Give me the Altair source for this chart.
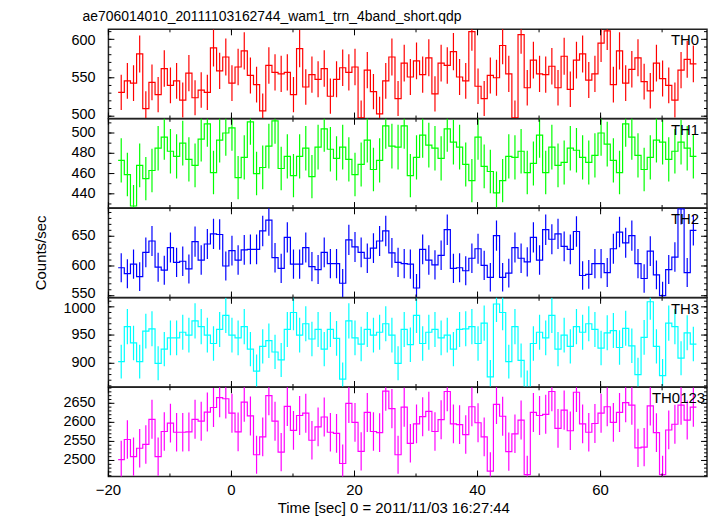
import altair as alt
import pandas as pd
import numpy as np

TITLE = "ae706014010_20111103162744_wam1_trn_4band_short.qdp"
X_TITLE = "Time [sec] 0 = 2011/11/03 16:27:44"
Y_TITLE = "Counts/sec"

FIRST_BIN_CENTER = -17.92
BIN_WIDTH = 1.0

TH0 = [531, 546, 543, 581, 510, 544, 528, 562, 540, 546,
       521, 556, 524, 534, 531, 589, 559, 577, 543, 564,
       585, 553, 541, 507, 566, 557, 555, 557, 528, 588,
       538, 554, 548, 562, 526, 548, 563, 557, 564, 498,
       560, 532, 503, 546, 577, 523, 569, 551, 572, 554,
       576, 529, 569, 566, 584, 551, 546, 610, 539, 523,
       553, 550, 592, 555, 498, 606, 537, 573, 555, 554,
       565, 537, 578, 535, 573, 581, 547, 555, 595, 611,
       541, 585, 543, 561, 576, 545, 533, 569, 549, 540,
       521, 560, 574, 568]

TH1 = [473, 459, 428, 468, 455, 463, 485, 496, 482, 477,
       490, 474, 468, 494, 509, 461, 493, 500, 505, 456,
       476, 511, 460, 466, 487, 512, 465, 477, 458, 477,
       485, 457, 486, 504, 484, 475, 486, 474, 459, 469,
       493, 464, 473, 507, 487, 486, 507, 458, 476, 498,
       488, 485, 475, 504, 491, 486, 469, 453, 496, 467,
       462, 441, 453, 477, 476, 482, 461, 470, 498, 461,
       486, 468, 471, 485, 483, 476, 471, 478, 500, 489,
       473, 461, 509, 496, 478, 464, 476, 493, 491, 474,
       482, 491, 485, 477]

TH2 = [597, 587, 603, 582, 623, 642, 598, 593, 631, 606,
       608, 595, 641, 610, 637, 654, 653, 600, 626, 610,
       627, 628, 628, 659, 677, 614, 596, 648, 603, 603,
       631, 599, 594, 623, 604, 604, 571, 644, 632, 623,
       613, 630, 642, 659, 622, 606, 604, 603, 563, 628,
       610, 602, 618, 661, 596, 597, 592, 613, 629, 601,
       581, 651, 581, 588, 631, 613, 607, 648, 610, 661,
       645, 654, 633, 628, 658, 584, 586, 604, 604, 589,
       629, 657, 639, 651, 604, 579, 625, 585, 550, 594,
       615, 696, 589, 660]

TH3 = [903, 965, 936, 903, 957, 961, 900, 925, 945, 945,
       955, 950, 975, 965, 950, 935, 960, 985, 950, 945,
       965, 925, 886, 930, 940, 920, 906, 960, 990, 950,
       970, 943, 960, 925, 960, 944, 872, 975, 945, 934,
       960, 950, 955, 970, 950, 900, 960, 933, 985, 935,
       955, 960, 945, 950, 925, 960, 961, 965, 935, 971,
       876, 1005, 990, 903, 965, 905, 858, 935, 955, 945,
       985, 925, 950, 930, 965, 955, 970, 960, 927, 954,
       958, 928, 962, 931, 880, 946, 1009, 930, 878, 971,
       965, 909, 954, 934]

TH0123 = [2502, 2555, 2510, 2532, 2542, 2608, 2510, 2576, 2598, 2574,
          2574, 2575, 2608, 2603, 2627, 2639, 2665, 2662, 2624, 2575,
          2653, 2617, 2515, 2562, 2670, 2603, 2522, 2642, 2579, 2618,
          2624, 2553, 2588, 2614, 2574, 2571, 2492, 2650, 2600, 2524,
          2626, 2576, 2573, 2682, 2636, 2515, 2640, 2545, 2596, 2615,
          2629, 2576, 2607, 2681, 2596, 2594, 2568, 2641, 2599, 2562,
          2472, 2647, 2616, 2523, 2570, 2606, 2463, 2626, 2618, 2621,
          2681, 2584, 2632, 2578, 2679, 2596, 2574, 2597, 2624, 2641,
          2600, 2626, 2652, 2645, 2533, 2535, 2643, 2573, 2463, 2580,
          2595, 2645, 2606, 2640]

PANEL_NAMES = ["TH0", "TH1", "TH2", "TH3", "TH0123"]
PANEL_DATA = [TH0, TH1, TH2, TH3, TH0123]
COLORS = ["#ff0000", "#00ff00", "#0000ff", "#00ffff", "#ff00ff"]
Y_DOMAINS = [(497, 613), (426, 514), (547, 697), (858, 1016), (2458, 2692)]
Y_LABELS = [[500, 550, 600], [440, 460, 480, 500], [550, 600, 650],
            [900, 950, 1000], [2500, 2550, 2600, 2650]]
Y_MAJOR_STEP = [50, 20, 50, 50, 50]
Y_MINOR_STEP = [10, 10, 10, 10, 10]
X_DOMAIN = (-20, 77.3)
X_LABELS = [-20, 0, 20, 40, 60]
X_MAJOR_STEP = 20
X_MINOR_STEP = 10

W = 602
H = 89.7
FONT = "Liberation Sans"
MAJ = 6
MIN = 3
LABEL_RIGHT = [W - 8, W - 8, W - 8, W - 8, W - 2]
EDGE_GAP_PX = 7.5   # keep y labels this far inside their own panel


def tick_values(lo, hi, step):
    start = np.ceil(lo / step) * step
    v = np.arange(start, hi + 1e-9, step)
    return pd.DataFrame({"v": v})


def fmt(v):
    return ("\u2212" + str(-v)) if v < 0 else str(v)


def text_layer(df, **kw):
    return alt.Chart(df).mark_text(color="black", font=FONT, **kw)


def label_positions(vals, lo, hi):
    # nudge labels that sit right on a panel edge a hair inwards
    per_px = (hi - lo) / H
    out = []
    for v in vals:
        p = v
        if (v - lo) / per_px < 3:
            p = lo + 3.8 * per_px
        if (hi - v) / per_px < 11:
            p = hi - 11.5 * per_px
        out.append(p)
    return out


def panel(i):
    vals = np.array(PANEL_DATA[i], dtype=float)
    n = len(vals)
    t = FIRST_BIN_CENTER + BIN_WIDTH * np.arange(n)
    err = np.sqrt(vals)
    bins = pd.DataFrame({"t": t, "rate": vals, "lo": vals - err, "hi": vals + err})
    edges = pd.DataFrame({"edge": np.append(t - BIN_WIDTH / 2, t[-1] + BIN_WIDTH / 2),
                          "rate": np.append(vals, vals[-1])})
    c = COLORS[i]
    xs = alt.Scale(domain=list(X_DOMAIN), nice=False, zero=False)
    ys = alt.Scale(domain=list(Y_DOMAINS[i]), nice=False, zero=False)
    bottom = (i == len(PANEL_NAMES) - 1)

    step = alt.Chart(edges).mark_line(interpolate="step-after", color=c,
                                      strokeWidth=1.2, clip=True).encode(
        x=alt.X("edge:Q", scale=xs, axis=None),
        y=alt.Y("rate:Q", scale=ys, axis=None))
    errs = alt.Chart(bins).mark_rule(color=c, strokeWidth=1.2, clip=True).encode(
        x=alt.X("t:Q", axis=None), y=alt.Y("lo:Q", axis=None), y2="hi:Q")

    layers = [step, errs]
    ymaj = tick_values(*Y_DOMAINS[i], Y_MAJOR_STEP[i])
    ymin = tick_values(*Y_DOMAINS[i], Y_MINOR_STEP[i])
    xmaj = tick_values(*X_DOMAIN, X_MAJOR_STEP)
    xmin = tick_values(*X_DOMAIN, X_MINOR_STEP)
    for df, L in ((ymaj, MAJ), (ymin, MIN)):
        for x0, x1 in ((0, L), (W - L, W)):
            layers.append(alt.Chart(df).mark_rule(color="black", strokeWidth=1).encode(
                x=alt.value(x0), x2=alt.value(x1), y=alt.Y("v:Q", axis=None)))
    for df, L in ((xmaj, MAJ), (xmin, MIN)):
        for y0, y1 in ((0, L), (H - L, H)):
            layers.append(alt.Chart(df).mark_rule(color="black", strokeWidth=1).encode(
                x=alt.X("v:Q", axis=None), y=alt.value(y0), y2=alt.value(y1)))

    # y tick labels
    ylab = pd.DataFrame({"v": label_positions(Y_LABELS[i], *Y_DOMAINS[i]),
                         "lab": [fmt(v) for v in Y_LABELS[i]]})
    layers.append(text_layer(ylab, align="right", baseline="middle", fontSize=14.5).encode(
        x=alt.value(-13), y=alt.Y("v:Q", axis=None), text="lab:N"))

    # panel name
    lab = pd.DataFrame({"name": [PANEL_NAMES[i]]})
    layers.append(text_layer(lab, align="right", baseline="middle", fontSize=15).encode(
        x=alt.value(LABEL_RIGHT[i]), y=alt.value(11), text="name:N"))

    if i == 0:
        tdf = pd.DataFrame({"title": [TITLE]})
        layers.append(text_layer(tdf, align="left", baseline="middle", fontSize=14).encode(
            x=alt.value(-26), y=alt.value(-12), text="title:N"))
    if i == 2:
        ydf = pd.DataFrame({"yt": [Y_TITLE]})
        layers.append(text_layer(ydf, align="center", baseline="middle", fontSize=15,
                                 angle=270).encode(
            x=alt.value(-68), y=alt.value(H / 2), text="yt:N"))
    if bottom:
        xlab = pd.DataFrame({"v": X_LABELS, "lab": [fmt(v) for v in X_LABELS]})
        layers.append(text_layer(xlab, align="center", baseline="middle", fontSize=15).encode(
            x=alt.X("v:Q", axis=None), y=alt.value(H + 14), text="lab:N"))
        xt = pd.DataFrame({"xt": [X_TITLE]})
        layers.append(text_layer(xt, align="center", baseline="middle", fontSize=15).encode(
            x=alt.value(W / 2 - 14), y=alt.value(H + 31.5), text="xt:N"))

    return alt.layer(*layers).properties(width=W, height=H)


chart = alt.vconcat(*[panel(i) for i in range(len(PANEL_NAMES))], spacing=0,
                    bounds="flush").configure(
    font=FONT, padding={"left": 25, "top": 0, "right": 0, "bottom": 0}
).configure_view(stroke="#222222", strokeWidth=1.5)

chart.save("out.html", embed_options={"renderer": "svg", "actions": False})
